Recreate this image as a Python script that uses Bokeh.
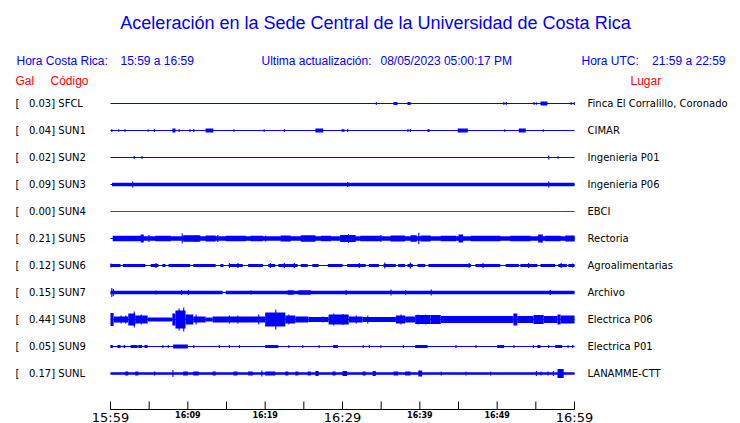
from bokeh.plotting import figure
from bokeh.models import Range1d
from bokeh.embed import file_html
from bokeh.resources import INLINE
from bokeh.core.properties import value

# ---------------- data ----------------
TITLE = "Aceleración en la Sede Central de la Universidad de Costa Rica"
HORA_CR = "15:59 a 16:59"
ACTUALIZACION = "08/05/2023 05:00:17 PM"
HORA_UTC = "21:59 a 22:59"

stations = ["SFCL", "SUN1", "SUN2", "SUN3", "SUN4", "SUN5", "SUN6", "SUN7", "SUN8", "SUN9", "SUNL"]
peak_gal = [0.03, 0.04, 0.02, 0.09, 0.00, 0.21, 0.12, 0.15, 0.44, 0.05, 0.17]
places = ["Finca El Corralillo, Coronado", "CIMAR", "Ingenieria P01", "Ingenieria P06", "EBCI",
          "Rectoria", "Agroalimentarias", "Archivo", "Electrica P06", "Electrica P01", "LANAMME-CTT"]

tick_minutes = [0, 5, 10, 15, 20, 25, 30, 35, 40, 45, 50, 55, 60]
label_minutes = [0, 10, 20, 30, 40, 50, 60]
tick_labels = ["15:59", "16:09", "16:19", "16:29", "16:39", "16:49", "16:59"]
major_label_minutes = [0, 30, 60]

# trace envelopes: (start minute, end minute, half amplitude) and spikes (minute, half amplitude)
SFCL_BANDS = [(36.6, 37.1, 1.5), (38.4, 38.8, 1.5), (55.6, 56.5, 2.0)]
SFCL_SPIKES = [(34.3, 1.5), (50.8, 1.5), (51.1, 1.5), (54.7, 1.5), (55.0, 1.2), (59.5, 1.5), (59.9, 1.5)]

SUN1_BANDS = [(8.0, 8.4, 2), (12.3, 13.3, 2), (26.5, 27.5, 2), (44.9, 46.2, 2), (52.8, 53.7, 2)]
SUN1_SPIKES = [(0.1, 1.5), (1.0, 1.2), (1.8, 1.5), (4.8, 1.2), (5.6, 1.5), (8.8, 1.5), (10.2, 1.5),
               (10.7, 1.5), (15.9, 1.2), (19.8, 1.2), (22.4, 1.5), (29.9, 1.5), (30.1, 1.5), (30.6, 1.5),
               (38.4, 1.5), (38.7, 1.5), (41.0, 1.5), (41.1, 1.5), (50.9, 1.2), (55.9, 1.2)]

SUN2_BANDS = []
SUN2_SPIKES = [(3.0, 1.5), (4.0, 1.5), (56.6, 2.0), (57.8, 1.2)]

SUN3_BANDS = [(0.2, 60, 1.7)]
SUN3_SPIKES = [(2.8, 3.0), (30.6, 2.5), (56.6, 3.0)]

SUN4_BANDS = []
SUN4_SPIKES = []

SUN5_BANDS = [(0.3, 60, 2.3), (0.3, 3.9, 2.8), (3.9, 4.3, 4), (5.8, 7.8, 2.8), (9.4, 11.6, 3.2),
              (12.3, 13.6, 3), (14.9, 17.5, 2.8), (18.1, 19.7, 2.8), (22.0, 23.3, 3), (24.6, 26.5, 3.2),
              (27.2, 28.5, 2.8), (29.7, 31.7, 3.5), (32.3, 34.9, 2.8), (36.2, 38.1, 3), (38.8, 39.6, 3.2),
              (40.1, 41.4, 3), (42.7, 44.7, 2.8), (45.0, 45.6, 4), (46.6, 50.4, 2.8), (51.7, 54.3, 2.8),
              (55.3, 55.9, 4), (56.2, 58.2, 2.8), (58.8, 60.0, 3)]
SUN5_SPIKES = [(4.9, 3.5), (9.2, 5), (10.9, 3.5), (13.8, 3.5), (20.0, 3), (30.7, 4.5), (34.9, 3.5), (39.8, 5.7)]

SUN6_BANDS = [(0, 1.3, 1.5), (1.6, 4.5, 1.5), (5.2, 6.2, 1.5), (6.7, 7.1, 1.5), (7.5, 10.3, 1.5),
              (10.7, 13.6, 1.5), (14.2, 14.6, 1.5), (15.3, 17.1, 1.5), (17.8, 19.7, 1.5), (20.4, 21.3, 1.5),
              (21.7, 24.2, 1.5), (24.6, 25.5, 1.5), (26.1, 26.9, 1.5), (28.1, 30.0, 1.5), (30.6, 33.0, 1.5),
              (33.4, 34.7, 1.5), (35.3, 36.9, 1.5), (37.2, 38.1, 1.5), (38.4, 39.1, 1.5), (39.7, 40.7, 1.5),
              (41.1, 46.6, 1.5), (47.2, 50.4, 1.5), (51.1, 52.8, 1.5), (53.0, 55.2, 1.5), (55.6, 57.5, 1.5),
              (57.9, 59.0, 1.5), (59.2, 60.0, 1.5)]
SUN6_SPIKES = [(0.0, 2), (5.8, 2.5), (15.3, 2.5), (16.4, 2.5), (20.6, 2.5), (22.4, 2.5), (23.7, 2.5),
               (32.1, 2.5), (35.4, 3), (38.7, 3), (46.3, 2.5), (48.1, 2.5), (54.0, 2.5), (58.2, 2.5), (59.7, 2)]

SUN7_BANDS = [(0, 14.5, 1.7), (14.9, 60, 1.7), (22.9, 23.7, 2.2), (24.3, 25.9, 2.2)]
SUN7_SPIKES = [(0.1, 4.5), (0.3, 3.5), (5.8, 2), (9.1, 2.5), (10.0, 2.5), (18.1, 2), (30.4, 2.5),
               (36.2, 3), (38.1, 2.2), (41.4, 3), (56.8, 2.5)]

SUN8_BANDS = [(0, 0.4, 6.5), (0.4, 2.3, 3), (2.3, 3.2, 6), (3.2, 4.8, 4), (4.8, 8.0, 2), (8.0, 8.4, 6),
              (8.4, 9.7, 9), (9.7, 10.7, 5), (10.7, 12.3, 3), (12.3, 13.2, 2), (13.2, 16.6, 3),
              (16.6, 20.0, 3), (20.0, 22.6, 7), (22.6, 23.9, 4), (23.9, 25.6, 3), (25.6, 28.2, 2.5),
              (28.2, 30.8, 5), (30.8, 32.6, 3), (32.6, 36.9, 2.5), (36.9, 38.1, 4), (38.1, 39.4, 3),
              (39.4, 41.4, 4.5), (41.4, 42.7, 4.5), (42.7, 52.1, 3.5), (52.1, 52.6, 6), (52.6, 54.7, 3.5),
              (54.7, 56.0, 4.5), (56.0, 57.8, 3.5), (57.8, 58.2, 5), (58.2, 60, 4)]
SUN8_SPIKES = [(1.3, 4), (1.9, 4), (3.0, 8), (3.9, 5), (8.8, 11), (9.4, 12), (11.0, 5), (15.3, 4),
               (16.4, 4), (19.1, 5), (21.3, 10), (23.0, 5), (27.4, 3), (28.8, 6), (30.0, 5.5), (31.7, 4),
               (33.2, 4), (37.5, 5), (39.7, 5), (40.7, 5)]

SUN9_BANDS = [(0, 0.3, 1.5), (0.9, 1.3, 1.5), (1.7, 1.9, 1.5), (2.6, 3.5, 1.5), (3.6, 4.1, 1.5),
              (4.4, 4.8, 1.5), (8.1, 10.0, 2), (20.0, 21.7, 1.5), (28.8, 29.4, 1.5), (39.4, 41.0, 1.5),
              (50.0, 50.9, 1.5), (55.2, 55.6, 1.5), (57.5, 58.4, 1.5)]
SUN9_SPIKES = [(6.7, 1.5), (7.4, 1.5), (10.7, 1.5), (14.0, 1.5), (15.3, 1.5), (16.6, 1.5), (23.0, 1.5),
               (24.8, 1.5), (26.9, 1.5), (32.6, 1.5), (33.4, 1.5), (34.9, 1.5), (37.8, 1.5), (44.6, 1.5),
               (47.2, 1.5), (52.1, 1.5), (54.6, 1.5), (56.6, 1.5), (59.1, 1.5), (59.7, 1.5)]

SUNL_BANDS = [(0, 60, 1.2), (1.9, 2.3, 2), (3.2, 3.6, 2), (5.6, 5.8, 2), (9.4, 10.0, 2), (10.7, 11.4, 2),
              (13.2, 13.6, 2), (15.9, 16.4, 2), (17.8, 18.4, 2), (20.0, 21.3, 2), (22.6, 23.0, 2),
              (23.9, 24.3, 2), (25.5, 25.9, 2), (26.5, 26.9, 2.5), (28.7, 29.1, 2), (30.0, 30.6, 2.5),
              (32.6, 33.0, 2), (33.9, 34.3, 2.5), (36.6, 37.2, 2), (38.1, 38.8, 2), (39.8, 40.3, 3),
              (57.8, 58.6, 4.5)]
SUNL_SPIKES = [(8.0, 3.5), (19.5, 3), (42.7, 2), (45.9, 2), (49.1, 2), (55.0, 2.5), (55.6, 2),
               (56.5, 2), (57.2, 2.5)]

ALL_BANDS = [SFCL_BANDS, SUN1_BANDS, SUN2_BANDS, SUN3_BANDS, SUN4_BANDS, SUN5_BANDS,
             SUN6_BANDS, SUN7_BANDS, SUN8_BANDS, SUN9_BANDS, SUNL_BANDS]
ALL_SPIKES = [SFCL_SPIKES, SUN1_SPIKES, SUN2_SPIKES, SUN3_SPIKES, SUN4_SPIKES, SUN5_SPIKES,
              SUN6_SPIKES, SUN7_SPIKES, SUN8_SPIKES, SUN9_SPIKES, SUNL_SPIKES]

# ---------------- layout / style ----------------
W, H = 740, 423
X0_PX, X1_PX = 110, 574        # trace span in page pixels
PX_PER_MIN = (X1_PX - X0_PX) / 60.0
ROW0_Y, ROW_DY = 103, 27
SPIKE_W = 0.14
BLUE = "#0000FF"
RED = "#FF0000"
TRACE_COLORS = [BLUE] * 4 + [RED] + [BLUE] * 6
NB = "\u00a0"

p = figure(width=W, height=H, output_backend="svg", toolbar_location=None,
           x_range=Range1d((0 - X0_PX) / PX_PER_MIN, (W - X0_PX) / PX_PER_MIN),
           y_range=Range1d(H, 0),
           min_border=0, x_axis_location=None, y_axis_location=None,
           outline_line_color=None)
p.grid.visible = False
p.extra_x_ranges = {"page": Range1d(0, W)}

row_y = [ROW0_Y + ROW_DY * i for i in range(len(stations))]

# traces
for i, st in enumerate(stations):
    y = row_y[i]
    c = TRACE_COLORS[i]
    p.segment(x0=[0], y0=[y], x1=[60], y1=[y], line_color=c, line_width=1)
    b = ALL_BANDS[i]
    if b:
        p.quad(left=[e[0] for e in b], right=[e[1] for e in b],
               top=[y - e[2] for e in b], bottom=[y + e[2] for e in b],
               fill_color=c, line_color=None)
    s = ALL_SPIKES[i]
    if s:
        p.quad(left=[e[0] for e in s], right=[e[0] + SPIKE_W for e in s],
               top=[y - e[1] for e in s], bottom=[y + e[1] for e in s],
               fill_color=c, line_color=None)

# left / right labels
left_text = ["[" + NB * 3 + "%.2f] %s" % (g, s) for g, s in zip(peak_gal, stations)]
p.text(x=[15] * len(stations), y=row_y, text=left_text, x_range_name="page",
       text_font=value("DejaVu Sans"), text_font_size="10px", text_color="black",
       text_align="left", text_baseline="middle")
p.text(x=[587] * len(places), y=row_y, text=places, x_range_name="page",
       text_font=value("DejaVu Sans"), text_font_size="10px", text_color="black",
       text_align="left", text_baseline="middle")

# title and header
p.text(x=[375], y=[22], text=[TITLE], x_range_name="page",
       text_font=value("Liberation Sans"), text_font_size="18px", text_color=BLUE,
       text_align="center", text_baseline="middle")
p.text(x=[16, 120, 261, 380, 581], y=[60] * 5,
       text=["Hora Costa Rica:", HORA_CR, "Ultima actualización:", ACTUALIZACION, "Hora UTC:"],
       x_range_name="page", text_font=value("Liberation Sans"), text_font_size="12px",
       text_color=BLUE, text_align="left", text_baseline="middle")
p.text(x=[725], y=[60], text=[HORA_UTC], x_range_name="page",
       text_font=value("Liberation Sans"), text_font_size="12px",
       text_color=BLUE, text_align="right", text_baseline="middle")
p.text(x=[15, 50, 630], y=[80] * 3, text=["Gal", "Código", "Lugar"], x_range_name="page",
       text_font=value("Liberation Sans"), text_font_size="12px", text_color=RED,
       text_align="left", text_baseline="middle")

# time axis
AX_Y, TICK_TOP = 409, 401
p.segment(x0=[0], y0=[AX_Y], x1=[60], y1=[AX_Y], line_color="black", line_width=1)
p.segment(x0=tick_minutes, y0=[TICK_TOP] * len(tick_minutes), x1=tick_minutes,
          y1=[AX_Y] * len(tick_minutes), line_color="black", line_width=1)
big = [(m, l) for m, l in zip(label_minutes, tick_labels) if m in major_label_minutes]
small = [(m, l) for m, l in zip(label_minutes, tick_labels) if m not in major_label_minutes]
p.text(x=[m for m, _ in big], y=[416.5] * len(big), text=[l for _, l in big],
       text_font=value("DejaVu Sans"), text_font_size="13px", text_color="black",
       text_align="center", text_baseline="middle")
p.text(x=[m for m, _ in small], y=[415] * len(small), text=[l for _, l in small],
       text_font=value("DejaVu Sans"), text_font_size="8px", text_font_style="bold",
       text_color="black", text_align="center", text_baseline="middle")

open("out.html", "w").write(file_html(p, INLINE))
